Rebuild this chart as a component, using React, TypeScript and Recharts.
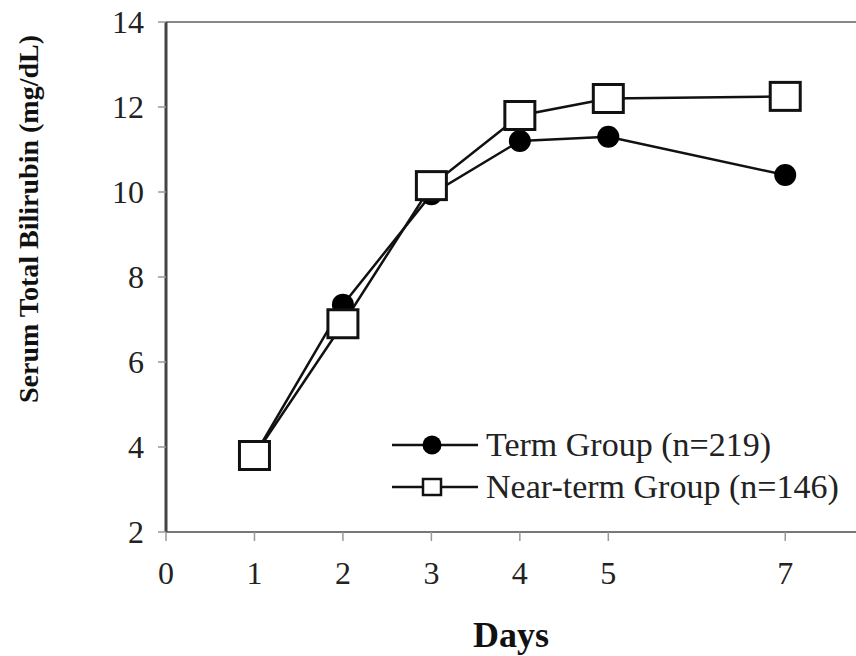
import React from 'react';
import { LineChart, Line, XAxis, YAxis, ReferenceLine } from 'recharts';

// Mean serum total bilirubin by day of life
const days = [1, 2, 3, 4, 5, 7];
const termGroup = [3.8, 7.35, 9.95, 11.2, 11.3, 10.4];
const nearTermGroup = [3.8, 6.9, 10.15, 11.8, 12.2, 12.25];
const xTicks = [0, 1, 2, 3, 4, 5, 7];
const yTicks = [2, 4, 6, 8, 10, 12, 14];

const data = days.map((day, i) => ({ day, term: termGroup[i], nearTerm: nearTermGroup[i] }));

const FONT = '"Liberation Serif", "Times New Roman", serif';
const INK = '#111';

const CircleDot = (props: any) => {
  const { cx, cy, index } = props;
  if (cx == null || cy == null) return null;
  return <circle key={`c-${index}`} cx={cx} cy={cy} r={11} fill="#000" />;
};

const SquareDot = (props: any) => {
  const { cx, cy, index } = props;
  if (cx == null || cy == null) return null;
  return (
    <rect
      key={`s-${index}`}
      x={cx - 15}
      y={cy - 14}
      width={30}
      height={28}
      fill="#fff"
      stroke={INK}
      strokeWidth={3}
    />
  );
};

const XTitle = ({ viewBox }: any) => (
  <text
    x={viewBox.x + viewBox.width / 2}
    y={viewBox.y + viewBox.height - 9}
    textAnchor="middle"
    fontSize={36}
    fontWeight="bold"
    fontFamily={FONT}
    fill={INK}
  >
    Days
  </text>
);

const legendRows = [
  { label: 'Term Group (n=219)', marker: 'circle' },
  { label: 'Near-term Group (n=146)', marker: 'square' },
];

// legend sits inside the plot area, lower right
const LegendBox = () => (
  <div style={{ position: 'absolute', left: 392, top: 424, fontFamily: FONT }}>
    {legendRows.map((row) => (
      <div key={row.label} style={{ display: 'flex', alignItems: 'center', height: 42 }}>
        <svg width={86} height={42}>
          <line x1={0} x2={86} y1={21} y2={21} stroke={INK} strokeWidth={2.5} />
          {row.marker === 'circle' ? (
            <circle cx={40} cy={21} r={9.5} fill="#000" />
          ) : (
            <rect x={31} y={13} width={18} height={16} fill="#fff" stroke={INK} strokeWidth={2.5} />
          )}
        </svg>
        <span style={{ marginLeft: 8, fontSize: 34, color: '#222', whiteSpace: 'nowrap' }}>
          {row.label}
        </span>
      </div>
    ))}
  </div>
);

export default function App() {
  return (
    <div
      style={{
        position: 'absolute',
        left: 0,
        top: 0,
        width: 856,
        height: 656,
        overflow: 'hidden',
        background: '#fff',
      }}
    >
      <LineChart width={856} height={656} data={data} margin={{ top: 22, right: 0, bottom: 0, left: 0 }}>
        <XAxis
          type="number"
          dataKey="day"
          domain={[0, 7.8]}
          ticks={xTicks}
          interval={0}
          allowDataOverflow
          height={124}
          tickSize={9}
          tickMargin={20}
          axisLine={{ stroke: '#777', strokeWidth: 2 }}
          tickLine={{ stroke: '#999', strokeWidth: 1.5 }}
          tick={{ fill: '#222', fontSize: 32, fontFamily: FONT }}
          label={<XTitle />}
        />
        <YAxis
          type="number"
          domain={[2, 14]}
          ticks={yTicks}
          interval={0}
          width={166}
          tickSize={8}
          tickMargin={14}
          axisLine={{ stroke: '#444', strokeWidth: 3 }}
          tickLine={{ stroke: '#999', strokeWidth: 1.5 }}
          tick={{ fill: '#222', fontSize: 32, fontFamily: FONT }}
          label={{
            value: 'Serum Total Bilirubin (mg/dL)',
            angle: -90,
            position: 'insideLeft',
            offset: 28,
            dy: -58,
            style: { textAnchor: 'middle', fontSize: 28, fontWeight: 'bold', fontFamily: FONT, fill: INK },
          }}
        />
        <ReferenceLine y={14} stroke="#888" strokeWidth={2} />
        <Line
          dataKey="term"
          stroke={INK}
          strokeWidth={2.5}
          dot={<CircleDot />}
          isAnimationActive={false}
        />
        <Line
          dataKey="nearTerm"
          stroke={INK}
          strokeWidth={2.5}
          dot={<SquareDot />}
          isAnimationActive={false}
        />
      </LineChart>
      <LegendBox />
    </div>
  );
}
